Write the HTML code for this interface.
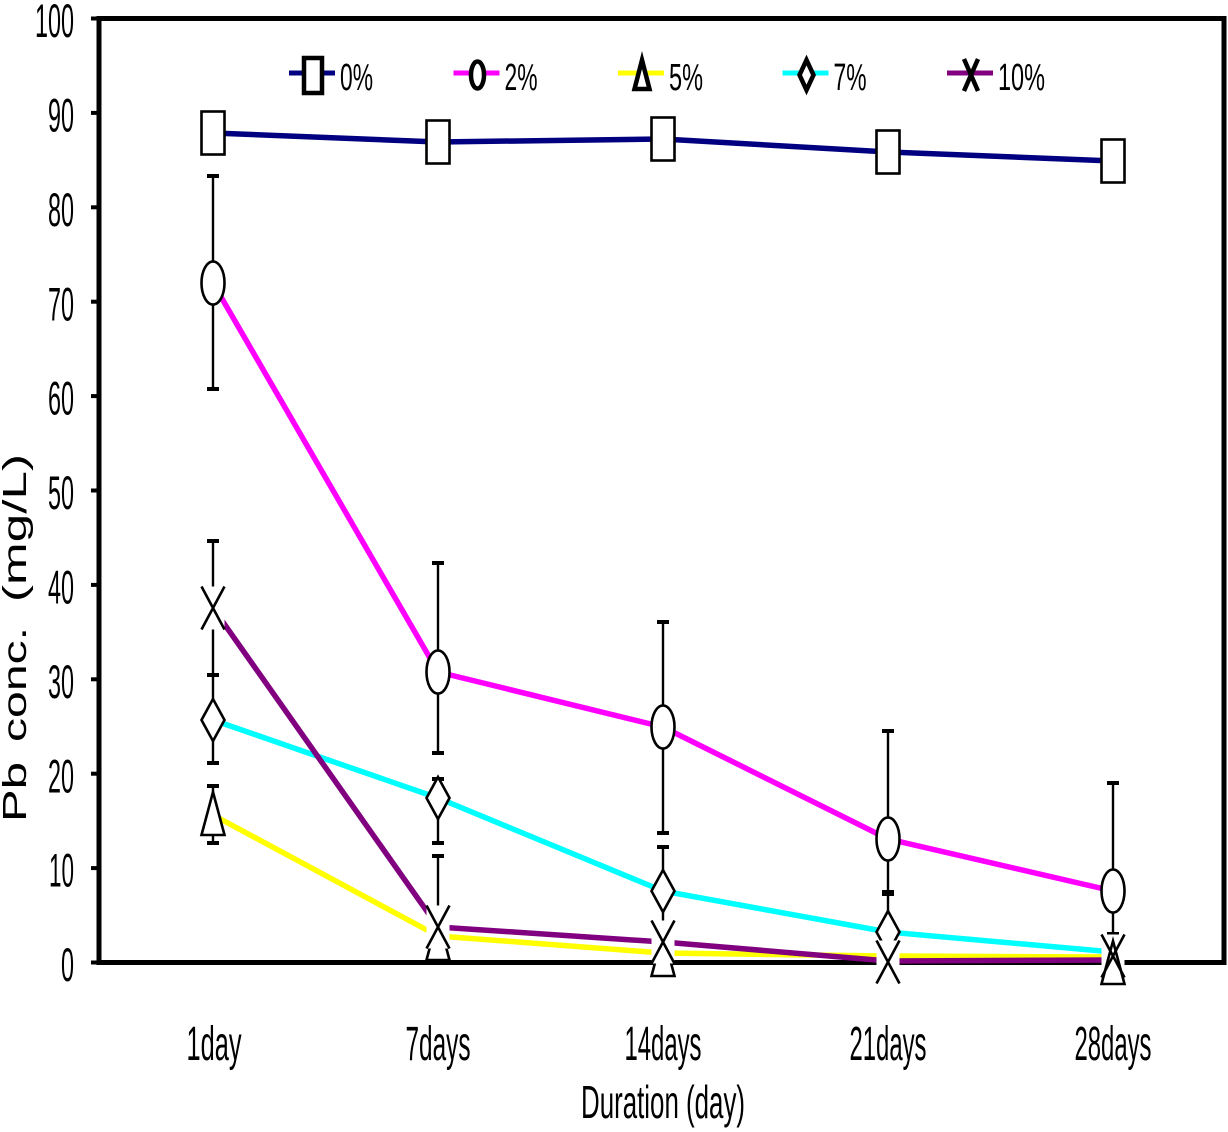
<!DOCTYPE html>
<html>
<head>
<meta charset="utf-8">
<style>
html,body{margin:0;padding:0;background:#fff;}
svg{display:block;}
text{font-family:"Liberation Sans",sans-serif;fill:#000;}
</style>
</head>
<body>
<svg width="1228" height="1132" viewBox="0 0 1228 1132" xmlns="http://www.w3.org/2000/svg">
<rect x="0" y="0" width="1228" height="1132" fill="#fff"/>

<!-- y tick labels -->
<g font-size="47.5" text-anchor="end">
<text x="74" y="37" textLength="39" lengthAdjust="spacingAndGlyphs">100</text>
<text x="74" y="131.5" textLength="26" lengthAdjust="spacingAndGlyphs">90</text>
<text x="74" y="225.9" textLength="26" lengthAdjust="spacingAndGlyphs">80</text>
<text x="74" y="320.3" textLength="26" lengthAdjust="spacingAndGlyphs">70</text>
<text x="74" y="414.7" textLength="26" lengthAdjust="spacingAndGlyphs">60</text>
<text x="74" y="509.1" textLength="26" lengthAdjust="spacingAndGlyphs">50</text>
<text x="74" y="603.5" textLength="26" lengthAdjust="spacingAndGlyphs">40</text>
<text x="74" y="697.9" textLength="26" lengthAdjust="spacingAndGlyphs">30</text>
<text x="74" y="792.3" textLength="26" lengthAdjust="spacingAndGlyphs">20</text>
<text x="74" y="886.7" textLength="25" lengthAdjust="spacingAndGlyphs">10</text>
<text x="74" y="981" textLength="13" lengthAdjust="spacingAndGlyphs">0</text>
</g>

<!-- y axis title -->
<text font-size="33" transform="translate(26,822) rotate(-90)" textLength="60" lengthAdjust="spacingAndGlyphs">Pb</text>
<text font-size="33" transform="translate(26,742) rotate(-90)" textLength="115" lengthAdjust="spacingAndGlyphs">conc.</text>
<text font-size="33" transform="translate(26,602) rotate(-90)" textLength="148" lengthAdjust="spacingAndGlyphs">(mg/L)</text>

<!-- x labels -->
<g font-size="48" text-anchor="middle">
<text x="214" y="1060" textLength="55" lengthAdjust="spacingAndGlyphs">1day</text>
<text x="438" y="1060" textLength="65" lengthAdjust="spacingAndGlyphs">7days</text>
<text x="663" y="1060" textLength="77" lengthAdjust="spacingAndGlyphs">14days</text>
<text x="888" y="1060" textLength="77" lengthAdjust="spacingAndGlyphs">21days</text>
<text x="1113" y="1060" textLength="77" lengthAdjust="spacingAndGlyphs">28days</text>
<text x="663" y="1118" font-size="46" textLength="164" lengthAdjust="spacingAndGlyphs">Duration (day)</text>
</g>

<!-- frame -->
<rect x="99" y="18.5" width="1125" height="944" fill="none" stroke="#000" stroke-width="5"/>
<!-- ticks -->
<g stroke="#000" stroke-width="4">
<line x1="91" y1="18.5" x2="99" y2="18.5"/>
<line x1="91" y1="112.9" x2="99" y2="112.9"/>
<line x1="91" y1="207.3" x2="99" y2="207.3"/>
<line x1="91" y1="301.7" x2="99" y2="301.7"/>
<line x1="91" y1="396.1" x2="99" y2="396.1"/>
<line x1="91" y1="490.5" x2="99" y2="490.5"/>
<line x1="91" y1="584.9" x2="99" y2="584.9"/>
<line x1="91" y1="679.3" x2="99" y2="679.3"/>
<line x1="91" y1="773.7" x2="99" y2="773.7"/>
<line x1="91" y1="868.1" x2="99" y2="868.1"/>
<line x1="91" y1="962.5" x2="99" y2="962.5"/>
</g>

<!-- series lines -->
<g fill="none" stroke-width="5.5" stroke-linejoin="round">
<polyline stroke="#000080" points="213,133 438,142 663,139 888,152 1113,161"/>
<polyline stroke="#ff00ff" points="213,283 438,672 663,727 888,839 1113,891"/>
<polyline stroke="#ffff00" points="213,815 438,936 663,953 888,956 1113,957"/>
<polyline stroke="#00ffff" points="213,720 438,798 663,891 888,932 1113,952"/>
<polyline stroke="#800080" points="213,608 438,927 663,942 888,961 1113,960"/>
</g>

<!-- error bars -->
<g stroke="#000" stroke-width="2.4">
<line x1="213" y1="176" x2="213" y2="389"/>
<line x1="438" y1="563" x2="438" y2="753"/>
<line x1="663" y1="622" x2="663" y2="833"/>
<line x1="888" y1="731" x2="888" y2="893"/>
<line x1="1113" y1="783" x2="1113" y2="934"/>
<line x1="213" y1="786" x2="213" y2="843"/>
<line x1="213" y1="675" x2="213" y2="763"/>
<line x1="438" y1="779" x2="438" y2="843"/>
<line x1="663" y1="847" x2="663" y2="925"/>
<line x1="888" y1="893" x2="888" y2="930"/>
<line x1="213" y1="541" x2="213" y2="675"/>
<line x1="438" y1="856" x2="438" y2="927"/>
</g>
<g fill="#000">
<rect x="207" y="174" width="12" height="4"/>
<rect x="207" y="387" width="12" height="4"/>
<rect x="432" y="561" width="12" height="4"/>
<rect x="432" y="751" width="12" height="4"/>
<rect x="657" y="620" width="12" height="4"/>
<rect x="657" y="831" width="12" height="4"/>
<rect x="882" y="729" width="12" height="4"/>
<rect x="882" y="890" width="12" height="6"/>
<rect x="1107" y="781" width="12" height="4"/>
<rect x="1107" y="932" width="12" height="4"/>
<rect x="207" y="784" width="12" height="4"/>
<rect x="207" y="841" width="12" height="4"/>
<rect x="207" y="673" width="12" height="4"/>
<rect x="207" y="761" width="12" height="4"/>
<rect x="432" y="777" width="12" height="4"/>
<rect x="432" y="841" width="12" height="4"/>
<rect x="657" y="845" width="12" height="4"/>
<rect x="207" y="539" width="12" height="4"/>
<rect x="432" y="854" width="12" height="4"/>
</g>

<!-- markers -->
<g fill="#fff" stroke="#000" stroke-width="2.6">
<rect x="201.5" y="111.5" width="23" height="43"/>
<rect x="426.5" y="120.5" width="23" height="43"/>
<rect x="651.5" y="117.5" width="23" height="43"/>
<rect x="876.5" y="130.5" width="23" height="43"/>
<rect x="1101.5" y="139.5" width="23" height="43"/>
<ellipse cx="213" cy="283" rx="11.5" ry="21.5"/>
<ellipse cx="438" cy="672" rx="11.5" ry="21.5"/>
<ellipse cx="663" cy="727" rx="11.5" ry="21.5"/>
<ellipse cx="888" cy="839" rx="11.5" ry="21.5"/>
<ellipse cx="1113" cy="891" rx="11.5" ry="21.5"/>
<polygon points="213,792 224.5,835 201.5,835"/>
<polygon points="438,917 449.5,960 426.5,960"/>
<polygon points="663,933 674.5,976 651.5,976"/>
<polygon points="213,699 224.5,720 213,741 201.5,720"/>
<polygon points="438,777 449.5,798 438,819 426.5,798"/>
<polygon points="663,870 674.5,891 663,912 651.5,891"/>
<polygon points="888,911 899.5,932 888,953 876.5,932"/>
</g>
<g>
<rect x="201.5" y="586.5" width="23" height="43" fill="#fff"/>
<rect x="426.5" y="905.5" width="23" height="43" fill="#fff"/>
<rect x="651.5" y="920.5" width="23" height="43" fill="#fff"/>
<rect x="876.5" y="940.5" width="23" height="43" fill="#fff"/>
<rect x="1101.5" y="934.5" width="23" height="43" fill="#fff"/>
</g>
<g stroke="#000" stroke-width="2.6" fill="none">
<path d="M201.5,586.5 L224.5,629.5 M224.5,586.5 L201.5,629.5"/>
<path d="M426.5,905.5 L449.5,948.5 M449.5,905.5 L426.5,948.5"/>
<path d="M651.5,920.5 L674.5,963.5 M674.5,920.5 L651.5,963.5"/>
<path d="M876.5,940.5 L899.5,983.5 M899.5,940.5 L876.5,983.5"/>
<path d="M1101.5,934.5 L1124.5,977.5 M1124.5,934.5 L1101.5,977.5"/>
<polygon points="1113,941 1124.5,984 1101.5,984"/>
</g>

<!-- legend -->
<g stroke-width="5">
<line x1="289" y1="73" x2="335" y2="73" stroke="#000080"/>
<line x1="453.5" y1="73" x2="499.5" y2="73" stroke="#ff00ff"/>
<line x1="618" y1="73" x2="664" y2="73" stroke="#ffff00"/>
<line x1="782.5" y1="73" x2="828.5" y2="73" stroke="#00ffff"/>
<line x1="947" y1="73" x2="993" y2="73" stroke="#800080"/>
</g>
<g fill="#fff" stroke="#000" stroke-width="4.5">
<rect x="304" y="58" width="18" height="35"/>
<ellipse cx="477.5" cy="75" rx="6.5" ry="13.5"/>
<polygon points="642,60 649.5,89 634.5,89"/>
<polygon points="806.5,60 813.5,75 806.5,90 799.5,75"/>
</g>
<path d="M964,59 L978,91 M978,59 L964,91" stroke="#000" stroke-width="4.5" fill="none"/>
<g font-size="38">
<text x="340" y="90" textLength="33" lengthAdjust="spacingAndGlyphs">0%</text>
<text x="504.5" y="90" textLength="33" lengthAdjust="spacingAndGlyphs">2%</text>
<text x="669" y="90" textLength="34" lengthAdjust="spacingAndGlyphs">5%</text>
<text x="833.5" y="90" textLength="33" lengthAdjust="spacingAndGlyphs">7%</text>
<text x="998" y="90" textLength="47" lengthAdjust="spacingAndGlyphs">10%</text>
</g>
</svg>
</body>
</html>
